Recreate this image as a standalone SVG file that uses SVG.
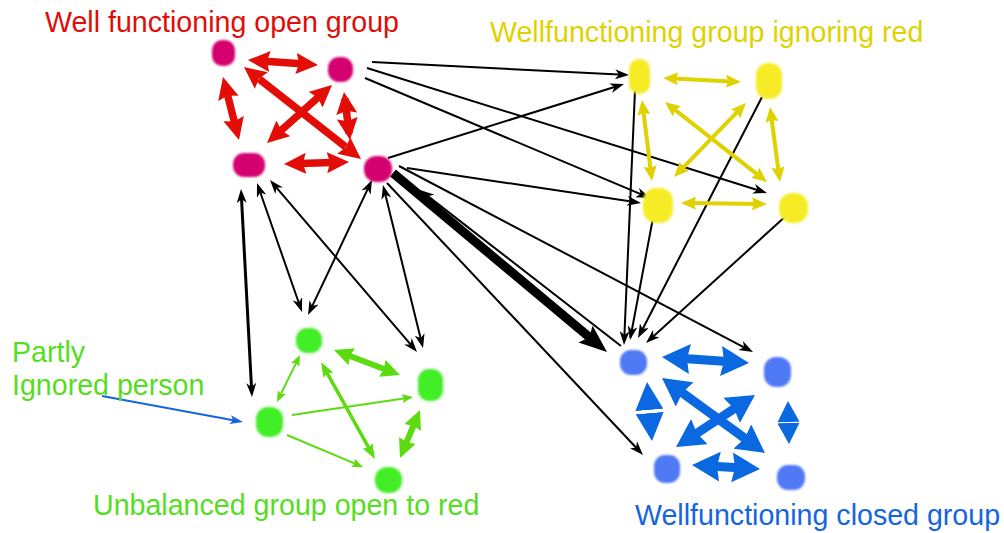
<svg xmlns="http://www.w3.org/2000/svg" width="1004" height="533" viewBox="0 0 1004 533">
<style>
text{font-family:"Liberation Sans",Arial,sans-serif;font-size:28.6px}
.r{stroke:#e20d06;stroke-width:7.5;fill:none;stroke-dasharray:0 13 74 13;marker-start:url(#mr);marker-end:url(#mr)}
.y{stroke:#e0d200;stroke-width:4;fill:none;stroke-dasharray:0 8 84 8;marker-start:url(#my);marker-end:url(#my)}
.gb{stroke:#5cdc10;stroke-width:6;fill:none;stroke-dasharray:0 13 74 13;marker-start:url(#mgb);marker-end:url(#mgb)}
.gm{stroke:#5cdc10;stroke-width:3.5;fill:none;stroke-dasharray:0 6 88 6;marker-start:url(#mgm);marker-end:url(#mgm)}
.gs{stroke:#5cdc10;stroke-width:2;fill:none;stroke-dasharray:0 6 88 6;marker-start:url(#mgs);marker-end:url(#mgs)}
.gss{stroke:#5cdc10;stroke-width:2;fill:none;stroke-dasharray:95 5;marker-end:url(#mgs)}
.bl{stroke:#0a68e0;stroke-width:9;fill:none;stroke-dasharray:0 12 76 12;marker-start:url(#mb);marker-end:url(#mb)}
.bv{stroke:none;fill:none;marker-start:url(#mbv);marker-end:url(#mbv)}
.bv2{stroke:none;fill:none;marker-start:url(#mbv2);marker-end:url(#mbv2)}
.k{stroke:#000;stroke-width:2;fill:none;stroke-dasharray:98 2;marker-end:url(#mk)}
.kd{stroke:#000;stroke-width:2;fill:none;stroke-dasharray:0 2.5 95 2.5;marker-start:url(#mk);marker-end:url(#mk)}
.kv{stroke:#000;stroke-width:3;fill:none;stroke-dasharray:0 3 94 3;marker-start:url(#mk);marker-end:url(#mk)}
.kb{stroke:#000;stroke-width:9;fill:none;stroke-dasharray:95 5;marker-end:url(#mkb)}
.pb{stroke:#1565e0;stroke-width:2;fill:none;stroke-dasharray:96 4;marker-end:url(#mpb)}
.nr{fill:#d5006f}
.ny{fill:#f6ec28}
.ng{fill:#42ee25}
.nb{fill:#4f79f5}
</style>
<defs>
<filter id="soft" x="-20%" y="-20%" width="140%" height="140%"><feGaussianBlur stdDeviation="0.8"/></filter>
<marker id="mr" viewBox="0 0 22 21" markerWidth="22" markerHeight="21" refX="22" refY="10.5" orient="auto-start-reverse" markerUnits="userSpaceOnUse"><path d="M0,0 L22,10.5 L0,21 L3,10.5 Z" fill="#e20d06"/></marker>
<marker id="my" viewBox="0 0 15 13" markerWidth="15" markerHeight="13" refX="15" refY="6.5" orient="auto-start-reverse" markerUnits="userSpaceOnUse"><path d="M0,0 L15,6.5 L0,13 L2,6.5 Z" fill="#e0d200"/></marker>
<marker id="mgb" viewBox="0 0 19 18" markerWidth="19" markerHeight="18" refX="19" refY="9" orient="auto-start-reverse" markerUnits="userSpaceOnUse"><path d="M0,0 L19,9 L0,18 L2,9 Z" fill="#5cdc10"/></marker>
<marker id="mgm" viewBox="0 0 15 11" markerWidth="15" markerHeight="11" refX="15" refY="5.5" orient="auto-start-reverse" markerUnits="userSpaceOnUse"><path d="M0,0 L15,5.5 L0,11 L2,5.5 Z" fill="#5cdc10"/></marker>
<marker id="mgs" viewBox="0 0 11 9" markerWidth="11" markerHeight="9" refX="11" refY="4.5" orient="auto-start-reverse" markerUnits="userSpaceOnUse"><path d="M0,0 L11,4.5 L0,9 L2,4.5 Z" fill="#5cdc10"/></marker>
<marker id="mb" viewBox="0 0 28 30" markerWidth="28" markerHeight="30" refX="28" refY="15" orient="auto-start-reverse" markerUnits="userSpaceOnUse"><path d="M0,0 L28,15 L0,30 L3,15 Z" fill="#0a68e0"/></marker>
<marker id="mbv" viewBox="0 0 28 28" markerWidth="28" markerHeight="28" refX="28" refY="14" orient="auto-start-reverse" markerUnits="userSpaceOnUse"><path d="M0,0 L28,14 L0,28 Z" fill="#0a68e0"/></marker>
<marker id="mbv2" viewBox="0 0 21 22" markerWidth="21" markerHeight="22" refX="21" refY="11" orient="auto-start-reverse" markerUnits="userSpaceOnUse"><path d="M0,0 L21,11 L0,22 Z" fill="#0a68e0"/></marker>
<marker id="mk" viewBox="0 0 14 10" markerWidth="14" markerHeight="10" refX="14" refY="5" orient="auto-start-reverse" markerUnits="userSpaceOnUse"><path d="M0,0 L14,5 L0,10 L4,5 Z" fill="#000"/></marker>
<marker id="mkb" viewBox="0 0 28 22" markerWidth="28" markerHeight="22" refX="28" refY="11" orient="auto-start-reverse" markerUnits="userSpaceOnUse"><path d="M0,0 L28,11 L0,22 L5,11 Z" fill="#000"/></marker>
<marker id="mpb" viewBox="0 0 13 9" markerWidth="13" markerHeight="9" refX="13" refY="4.5" orient="auto-start-reverse" markerUnits="userSpaceOnUse"><path d="M0,0 L13,4.5 L0,9 L3,4.5 Z" fill="#1565e0"/></marker>
</defs>
<rect width="1004" height="533" fill="#fff"/>

<g id="connectors">
<!-- black connectors -->
<path class="k" pathLength="100" d="M372,62 L629,75"/>
<path class="k" pathLength="100" d="M367,68 L767,193"/>
<path class="k" pathLength="100" d="M365,78 L650,198"/>
<path class="k" pathLength="100" d="M388,158 L624,84"/>
<path class="k" pathLength="100" d="M407,168 L641,203"/>
<path class="k" pathLength="100" d="M399,166 L753,352"/>
<path class="kb" pathLength="100" d="M393,173 L607,352"/>
<path class="k" pathLength="100" d="M621,346 L420,190"/>
<path class="k" pathLength="100" d="M387,183 L643,455"/>
<path class="kd" pathLength="100" d="M372,180 L308,315"/>
<path class="kd" pathLength="100" d="M383,185 L423,348"/>
<path class="kd" pathLength="100" d="M270,180 L417,352"/>
<path class="kd" pathLength="100" d="M257,183 L302,312"/>
<path class="kv" pathLength="100" d="M241,189 L252,397"/>
<path class="k" pathLength="100" d="M635,90 L624,345"/>
<path class="k" pathLength="100" d="M653,218 L630,340"/>
<path class="k" pathLength="100" d="M762,97 L638,338"/>
<path class="k" pathLength="100" d="M787,215 L646,343"/>
<!-- red group -->
<path class="r" pathLength="100" d="M248,60 L318,65"/>
<path class="r" pathLength="100" d="M223,77 L239,140"/>
<path class="r" pathLength="100" d="M244,67 L361,159"/>
<path class="r" pathLength="100" d="M332,85 L267,143"/>
<path class="r" pathLength="100" d="M344,92 L350,140"/>
<path class="r" pathLength="100" d="M284,164 L349,162"/>
<!-- yellow group -->
<path class="y" pathLength="100" d="M663,78 L741,82"/>
<path class="y" pathLength="100" d="M642,100 L652,181"/>
<path class="y" pathLength="100" d="M665,102 L767,182"/>
<path class="y" pathLength="100" d="M746,103 L674,177"/>
<path class="y" pathLength="100" d="M770,107 L780,182"/>
<path class="y" pathLength="100" d="M681,203 L767,204"/>
<!-- green group -->
<path class="gb" pathLength="100" d="M334,350 L400,375"/>
<path class="gs" pathLength="100" d="M300,355 L277,402"/>
<path class="gm" pathLength="100" d="M321,362 L375,459"/>
<path class="gss" pathLength="100" d="M292,415 L413,397"/>
<path class="gss" pathLength="100" d="M287,435 L363,467"/>
<path class="gb" pathLength="100" d="M420,410 L400,458"/>
<!-- blue group -->
<path class="bl" pathLength="100" d="M662,357 L749,363"/>
<path class="bv" d="M647,382 L652,441"/>
<path class="bl" pathLength="100" d="M662,378 L765,453"/>
<path class="bl" pathLength="100" d="M755,395 L676,447"/>
<path class="bv2" d="M788,401 L789,444"/>
<path class="bl" pathLength="100" d="M692,465 L760,469"/>
<!-- pointer -->
<path class="pb" pathLength="100" d="M102,396 L243,422"/>
</g>

<g id="node-red-1"><rect class="nr" x="212" y="40" width="23" height="26" rx="10" filter="url(#soft)"/></g>
<g id="node-red-2"><rect class="nr" x="328" y="57" width="25" height="25" rx="11" filter="url(#soft)"/></g>
<g id="node-red-3"><rect class="nr" x="233" y="153" width="32" height="24" rx="11" filter="url(#soft)"/></g>
<g id="node-red-4"><rect class="nr" x="364" y="156" width="28" height="26" rx="12" filter="url(#soft)"/></g>

<g id="node-yellow-1"><rect class="ny" x="629" y="59" width="21" height="35" rx="10" filter="url(#soft)"/></g>
<g id="node-yellow-2"><rect class="ny" x="756" y="63" width="26" height="36" rx="12" filter="url(#soft)"/></g>
<g id="node-yellow-3"><rect class="ny" x="643" y="188" width="30" height="35" rx="13" filter="url(#soft)"/></g>
<g id="node-yellow-4"><rect class="ny" x="779" y="193" width="29" height="30" rx="13" filter="url(#soft)"/></g>

<g id="node-green-1"><rect class="ng" x="296" y="328" width="26" height="25" rx="11" filter="url(#soft)"/></g>
<g id="node-green-2"><rect class="ng" x="418" y="369" width="25" height="32" rx="11" filter="url(#soft)"/></g>
<g id="node-green-3"><rect class="ng" x="256" y="407" width="27" height="30" rx="12" filter="url(#soft)"/></g>
<g id="node-green-4"><rect class="ng" x="375" y="467" width="27" height="26" rx="12" filter="url(#soft)"/></g>

<g id="node-blue-1"><rect class="nb" x="620" y="350" width="27" height="25" rx="11" filter="url(#soft)"/></g>
<g id="node-blue-2"><rect class="nb" x="764" y="357" width="27" height="30" rx="12" filter="url(#soft)"/></g>
<g id="node-blue-3"><rect class="nb" x="654" y="455" width="26" height="28" rx="11" filter="url(#soft)"/></g>
<g id="node-blue-4"><rect class="nb" x="777" y="465" width="28" height="25" rx="11" filter="url(#soft)"/></g>

<g id="labels">
<text x="45" y="32" fill="#e00d08">Well functioning open group</text>
<text x="490" y="42" fill="#e0d200">Wellfunctioning group ignoring red</text>
<text x="12" y="362" fill="#55dd22">Partly</text>
<text x="12" y="395" fill="#55dd22">Ignored person</text>
<text x="93" y="515" fill="#55dd22">Unbalanced group open to red</text>
<text x="635" y="525" fill="#1565e0" font-size="27.5">Wellfunctioning closed group</text>
</g>
</svg>
